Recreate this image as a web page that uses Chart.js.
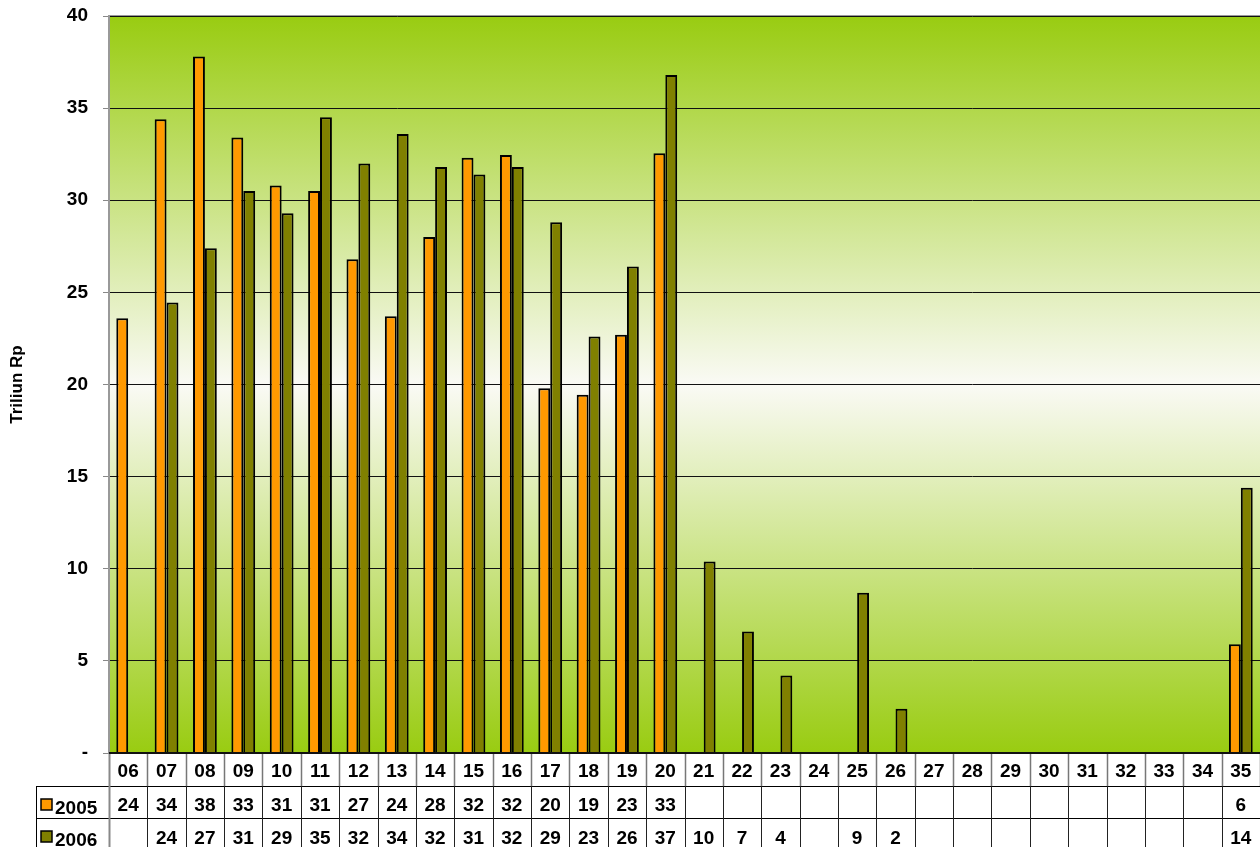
<!DOCTYPE html>
<html>
<head>
<meta charset="utf-8">
<script src="https://cdn.jsdelivr.net/npm/chart.js@4/dist/chart.umd.min.js"></script>
<style>
  html, body { margin: 0; padding: 0; background: #fff; }
  canvas { display: block; }
</style>
</head>
<body>
<canvas id="chart" width="1260" height="847"></canvas>
<script>
// categories along the bottom (two-digit labels)
const categories = ['06', '07', '08', '09', '10', '11', '12', '13', '14', '15', '16', '17', '18', '19', '20',
  '21', '22', '23', '24', '25', '26', '27', '28', '29', '30', '31', '32', '33', '34', '35'];

// values, Triliun Rp
const values2005 = [23.6, 34.4, 37.8, 33.4, 30.8, 30.5, 26.8, 23.7, 28.0, 32.3, 32.45, 19.8, 19.45, 22.7, 32.55,
  null, null, null, null, null, null, null, null, null, null, null, null, null, null, 5.9];
const values2006 = [null, 24.45, 27.4, 30.5, 29.3, 34.5, 32.0, 33.6, 31.8, 31.4, 31.8, 28.8, 22.6, 26.4, 36.8,
  10.4, 6.6, 4.2, null, 8.7, 2.4, null, null, null, null, null, null, null, null, 14.4];

const yTicks = [0, 5, 10, 15, 20, 25, 30, 35, 40];

const ORANGE = '#FF9900';
const OLIVE = '#808000';
const FONT = '"Liberation Sans", Arial, sans-serif';

Chart.defaults.font.family = FONT;
Chart.defaults.color = '#000';

// green - white - green band behind the bars
const backgroundPlugin = {
  id: 'plotBackground',
  beforeDraw(chart) {
    const { ctx, chartArea: a } = chart;
    const g = ctx.createLinearGradient(0, a.top, 0, a.bottom);
    g.addColorStop(0, '#99CC11');
    g.addColorStop(0.5, '#FAFAF5');
    g.addColorStop(1, '#99CC11');
    ctx.save();
    ctx.fillStyle = g;
    ctx.fillRect(a.left, a.top, a.right - a.left, a.bottom - a.top);
    ctx.strokeStyle = '#999';
    ctx.lineWidth = 2;
    ctx.beginPath();
    ctx.moveTo(a.left, a.top);
    ctx.lineTo(a.right, a.top);
    ctx.stroke();
    ctx.restore();
  }
};

// data table under the plot, columns follow the x scale
const tablePlugin = {
  id: 'dataTable',
  afterDraw(chart) {
    const { ctx, chartArea: a, scales: { x } } = chart;
    const colW = x.getPixelForValue(1) - x.getPixelForValue(0);
    const top = a.bottom;
    const r1 = top + 33, r2 = top + 65, bottom = chart.height;
    const headLeft = 36;

    ctx.save();
    // horizontal rules
    ctx.strokeStyle = '#000';
    ctx.lineWidth = 1;
    ctx.beginPath();
    ctx.moveTo(headLeft, r1 + 0.5); ctx.lineTo(a.right, r1 + 0.5);
    ctx.moveTo(headLeft, r2 + 0.5); ctx.lineTo(a.right, r2 + 0.5);
    ctx.moveTo(headLeft + 0.5, r1); ctx.lineTo(headLeft + 0.5, bottom);
    ctx.stroke();

    // column separators
    for (let i = 0; i <= categories.length; i++) {
      const xx = Math.round(a.left + i * colW) + 0.5;
      ctx.strokeStyle = i === 0 ? '#888' : '#777';
      ctx.lineWidth = i === 0 ? 2 : 1.5;
      ctx.beginPath();
      ctx.moveTo(xx, top);
      ctx.lineTo(xx, r1);
      ctx.stroke();
      ctx.strokeStyle = i === 0 ? '#888' : '#222';
      ctx.lineWidth = i === 0 ? 2 : 1;
      ctx.beginPath();
      ctx.moveTo(xx, r1);
      ctx.lineTo(xx, bottom);
      ctx.stroke();
    }

    // axis line on top of the table
    ctx.strokeStyle = '#111';
    ctx.lineWidth = 2;
    ctx.beginPath();
    ctx.moveTo(a.left, top);
    ctx.lineTo(a.right, top);
    ctx.stroke();

    ctx.font = 'bold 19px ' + FONT;
    ctx.fillStyle = '#000';
    ctx.textAlign = 'center';
    ctx.textBaseline = 'alphabetic';
    categories.forEach((c, i) => {
      const cx = x.getPixelForValue(i);
      ctx.fillText(c, cx, top + 24);
      if (values2005[i] != null) ctx.fillText(Math.round(values2005[i]), cx, r1 + 25);
      if (values2006[i] != null) ctx.fillText(Math.round(values2006[i]), cx, r2 + 26);
    });

    // row headers with legend keys
    const rows = [['2005', ORANGE, r1], ['2006', OLIVE, r2]];
    ctx.textAlign = 'left';
    rows.forEach(([name, color, y]) => {
      ctx.fillStyle = color;
      ctx.fillRect(41, y + 13, 11, 11);
      ctx.strokeStyle = '#000';
      ctx.lineWidth = 1.5;
      ctx.strokeRect(41, y + 13, 11, 11);
      ctx.fillStyle = '#000';
      ctx.fillText(name, 55, y + 28);
    });
    ctx.restore();
  }
};

new Chart(document.getElementById('chart'), {
  type: 'bar',
  data: {
    labels: categories,
    datasets: [
      { label: '2005', data: values2005, backgroundColor: ORANGE, borderColor: '#000', borderWidth: 2 },
      { label: '2006', data: values2006, backgroundColor: OLIVE, borderColor: '#000', borderWidth: 2 }
    ]
  },
  options: {
    responsive: false,
    animation: false,
    devicePixelRatio: 1,
    categoryPercentage: 0.62,
    barPercentage: 1.0,
    layout: { padding: { top: 16, right: 0, bottom: 94, left: 0 } },
    plugins: {
      legend: { display: false },
      tooltip: { enabled: false }
    },
    scales: {
      x: { display: false },
      y: {
        min: 0,
        max: 40,
        afterBuildTicks(scale) { scale.ticks = yTicks.map(v => ({ value: v })); },
        afterFit(scale) {
          scale.width = 109;
          // labels may stick out of the plot, the layout padding handles it
          scale.paddingTop = 0;
          scale.paddingBottom = 0;
        },
        ticks: {
          padding: 15,
          font: { size: 19, weight: 'bold' },
          color: '#000',
          callback: v => (v === 0 ? '-' : v)
        },
        grid: { color: '#111', lineWidth: 1, tickLength: 6, tickColor: '#888' },
        border: { color: '#999', width: 2 },
        title: {
          display: true,
          text: 'Triliun Rp',
          font: { size: 17, weight: 'bold' },
          color: '#000',
          padding: { top: 7, bottom: 0 }
        }
      }
    }
  },
  plugins: [backgroundPlugin, tablePlugin]
});
</script>
</body>
</html>
